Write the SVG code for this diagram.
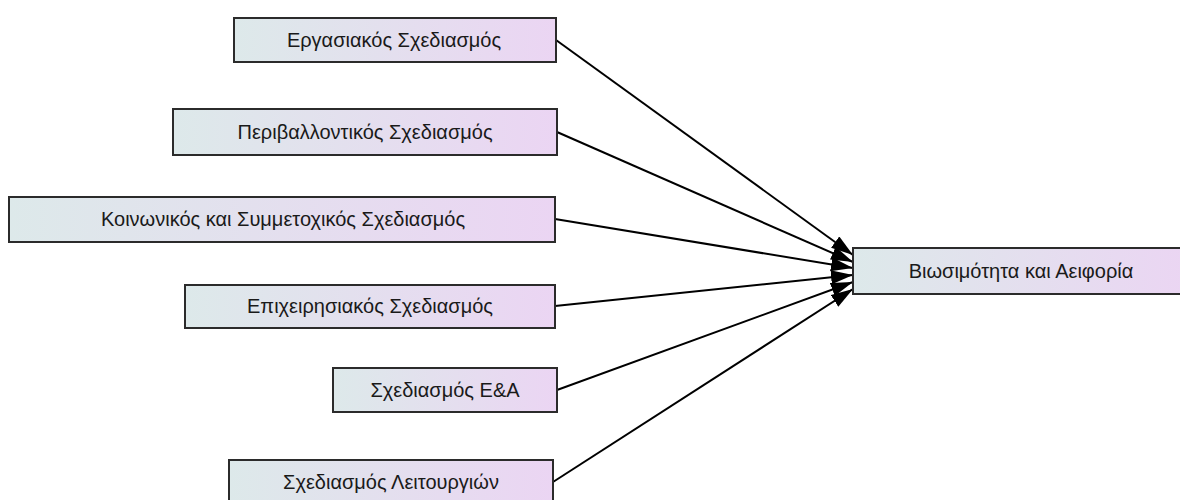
<svg xmlns="http://www.w3.org/2000/svg" width="1180" height="500" viewBox="0 0 1180 500">
<defs>
<linearGradient id="g" x1="0" y1="0" x2="1" y2="0">
<stop offset="0" stop-color="#dde9ea"/>
<stop offset="1" stop-color="#ebd5f3"/>
</linearGradient>
<marker id="ah" markerUnits="userSpaceOnUse" markerWidth="24" markerHeight="16" refX="22" refY="7" orient="auto">
<path d="M0,0 L22,7 L0,14 Z" fill="#000"/>
</marker>
<style>
.box{fill:url(#g);stroke:#2b2b2b;stroke-width:2}
.lbl{font-family:"Liberation Sans",Arial,sans-serif;font-size:20px;fill:#1a1a1a;text-anchor:middle}
.edge{stroke:#000;stroke-width:2;fill:none;marker-end:url(#ah)}
</style>
</defs>
<rect width="1180" height="500" fill="#fff"/>
<g id="connectors">
<line class="edge" x1="556" y1="40" x2="853" y2="255"/>
<line class="edge" x1="557" y1="132" x2="853" y2="262"/>
<line class="edge" x1="555" y1="219" x2="853" y2="268"/>
<line class="edge" x1="555" y1="306" x2="853" y2="275"/>
<line class="edge" x1="557" y1="390" x2="853" y2="282"/>
<line class="edge" x1="553" y1="482" x2="853" y2="289"/>
</g>
<g id="n1"><rect class="box" x="234" y="18" width="322" height="44"/><text class="lbl" x="394" y="47">Εργασιακός Σχεδιασμός</text></g>
<g id="n2"><rect class="box" x="173" y="109" width="384" height="46"/><text class="lbl" x="365" y="139">Περιβαλλοντικός Σχεδιασμός</text></g>
<g id="n3"><rect class="box" x="9" y="197" width="546" height="45"/><text class="lbl" x="283" y="226">Κοινωνικός και Συμμετοχικός Σχεδιασμός</text></g>
<g id="n4"><rect class="box" x="185" y="285" width="370" height="43"/><text class="lbl" x="370" y="313">Επιχειρησιακός Σχεδιασμός</text></g>
<g id="n5"><rect class="box" x="333" y="368" width="224" height="44"/><text class="lbl" x="445" y="397">Σχεδιασμός Ε&amp;Α</text></g>
<g id="n6"><rect class="box" x="229" y="460" width="324" height="46"/><text class="lbl" x="391" y="489">Σχεδιασμός Λειτουργιών</text></g>
<g id="target"><rect class="box" x="853" y="248" width="338" height="46"/><text class="lbl" x="1021" y="278">Βιωσιμότητα και Αειφορία</text></g>
</svg>
